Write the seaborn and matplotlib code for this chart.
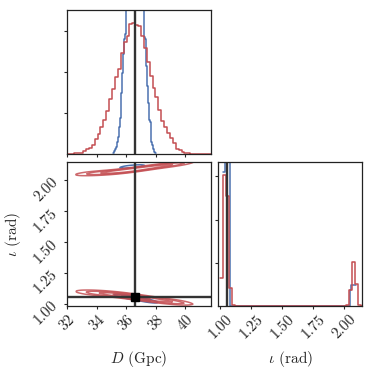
import numpy as np
import pandas as pd
import matplotlib
matplotlib.use("Agg")
import matplotlib.pyplot as plt
import seaborn as sns
import warnings
warnings.filterwarnings("ignore")

sns.set_theme(style="ticks")
plt.rcParams["font.family"] = ["serif"]
plt.rcParams["font.serif"] = ["cmr10", "DejaVu Serif"]
plt.rcParams["mathtext.fontset"] = "cm"
plt.rcParams["axes.formatter.use_mathtext"] = True
fontsize = 11

red = "#c44e52"
blue = "#4c72b0"
truth_c = "#333333"

# true values
D_true = 36.56
iota_true = 1.052

# 1D histogram of D (bin start, width, heights)
D_red_start, D_red_width = 31.9, 0.196
D_red_h = [0, 0, 0, 0.7, 0.7, 0.7, 2.7, 5, 6.3, 8.7,
           14.7, 20, 26.7, 34, 42.7, 54.7, 64.7, 76.7, 84.7, 100,
           111.7, 117, 129, 130, 128, 127, 117, 105.7, 91.7, 77.3,
           65.7, 56.7, 44, 33, 26.7, 20.7, 16, 10.7, 4.7, 3.7,
           1.7, 0.7, 0.7, 0, 0, 0, 0, 0, 0, 0]
D_blue_start, D_blue_width = 35.10, 0.0674
D_blue_h = [0.7, 2.7, 4.7, 7.3, 12.3, 17.3, 26.7, 35.7, 60.7, 80.7, 99, 114, 119,
            150, 180, 210, 240, 265, 285, 300, 310, 315, 315, 310, 300, 285, 265, 240, 210, 180, 150,
            115.7, 114, 87.3, 68, 50.7, 34, 31.3, 12.3, 9, 4.7, 2.3, 0.7]

# 1D histogram of iota
i_red_start, i_red_width = 0.9995, 0.02365
i_red_h = [27.7, 131, 110, 18, 1] + [0] * 38 + [1, 16.5, 44, 22, 1.5, 0]
i_blue_start, i_blue_width = 1.023, 0.01345
i_blue_h = [134, 300, 330, 200] + [0] * 72 + [16, 20.7, 20.7, 20.7]

# 2D posterior: ridge of each mode (D, iota, weight) and its spread across the ridge
red_low_D = [33.0, 33.8, 34.6, 35.4, 36.2, 37.0, 37.8, 38.6, 39.4, 40.0]
red_low_iota = [1.090, 1.089, 1.084, 1.075, 1.063, 1.049, 1.035, 1.023, 1.013, 1.007]
red_low_w = [4, 8, 9, 11, 14, 12, 9, 10, 7, 3]
red_low_spread = 0.020

red_up_D = [33.0, 33.8, 34.6, 35.4, 36.2, 37.0, 37.8, 38.6, 39.4, 40.0]
red_up_iota = [2.056, 2.058, 2.062, 2.069, 2.080, 2.094, 2.108, 2.120, 2.132, 2.140]
red_up_w = [4, 8, 9, 11, 14, 12, 9, 10, 7, 3]
red_up_spread = 0.016

blue_low_D = [35.4, 35.9, 36.4, 36.9, 37.4, 37.9]
blue_low_iota = [1.068, 1.060, 1.050, 1.039, 1.027, 1.017]
blue_low_w = [3, 7, 10, 10, 7, 3]
blue_low_spread = 0.012

blue_up_D = [35.6, 36.0, 36.4, 36.8, 37.2]
blue_up_iota = [2.103, 2.108, 2.112, 2.116, 2.120]
blue_up_w = [3, 7, 9, 7, 3]
blue_up_spread = 0.010

across = [-1.0, -0.5, 0.0, 0.5, 1.0]
across_w = [1, 2, 3, 2, 1]

D_lim = (31.95, 41.70)
i_lim = (0.983, 2.148)
D_ticks = [32, 34, 36, 38, 40]
i_ticks = [1.00, 1.25, 1.50, 1.75, 2.00]
levels = [0.135, 0.325, 0.607, 0.882]


def ridge_table(Ds, iotas, ws, spread):
    rows = []
    for d, i, w in zip(Ds, iotas, ws):
        for a, aw in zip(across, across_w):
            rows.append((d, i + a * spread, w * aw))
    return pd.DataFrame(rows, columns=["D", "iota", "w"])


def hist(ax, start, width, heights, color, lw=1.1):
    edges = [start + width * k for k in range(len(heights) + 1)]
    centers = [e + width / 2 for e in edges[:-1]]
    sns.histplot(x=centers, weights=heights, bins=edges, element="step",
                 fill=False, color=color, linewidth=lw, ax=ax)


fig = plt.figure(figsize=(3.72, 3.72), dpi=100)
w = 144 / 372
ax_top = fig.add_axes([66.5 / 372, 1 - 154 / 372, w, w])
ax_2d = fig.add_axes([66.5 / 372, 1 - 306 / 372, w, w])
ax_r = fig.add_axes([218.3 / 372, 1 - 306 / 372, w, w])

# top: D marginal
hist(ax_top, D_blue_start, D_blue_width, D_blue_h, blue)
hist(ax_top, D_red_start, D_red_width, D_red_h, red)
ax_top.axvline(D_true, color=truth_c, lw=1.7)
ax_top.set_xlim(D_lim)
ax_top.set_ylim(0, 1.1 * max(D_red_h))
ax_top.set_yticks([40.6, 81.2, 121.8])
ax_top.set_xticks(D_ticks)
ax_top.set_xticklabels([])
ax_top.set_yticklabels([])

# right: iota marginal
hist(ax_r, i_blue_start, i_blue_width, i_blue_h, blue)
hist(ax_r, i_red_start, i_red_width, i_red_h, red)
ax_r.axvline(iota_true, color=truth_c, lw=1.7)
ax_r.set_xlim(i_lim)
ax_r.set_ylim(0, 1.1 * max(i_red_h))
ax_r.set_yticks([43.2, 86.4, 129.6])
ax_r.set_yticklabels([])
ax_r.set_xticks(i_ticks)
ax_r.set_xticklabels(["%.2f" % t for t in i_ticks])

# 2D contours
kw = dict(x="D", y="iota", weights="w", bw_adjust=0.8, linewidths=1.1, ax=ax_2d)
sns.kdeplot(data=ridge_table(blue_low_D, blue_low_iota, blue_low_w, blue_low_spread),
            levels=[0.135, 0.5], color=blue, **kw)
sns.kdeplot(data=ridge_table(blue_up_D, blue_up_iota, blue_up_w, blue_up_spread),
            levels=[0.3], color=blue, **kw)
sns.kdeplot(data=ridge_table(red_low_D, red_low_iota, red_low_w, red_low_spread),
            levels=levels, color=red, alpha=0.85, **kw)
sns.kdeplot(data=ridge_table(red_up_D, red_up_iota, red_up_w, red_up_spread),
            levels=levels[:3], color=red, alpha=0.85, **kw)
ax_2d.axvline(D_true, color=truth_c, lw=1.7)
ax_2d.axhline(iota_true, color=truth_c, lw=1.7)
ax_2d.plot(D_true, iota_true, "s", color="black", ms=5.5)
ax_2d.set_xlim(D_lim)
ax_2d.set_ylim(i_lim)
ax_2d.set_xticks(D_ticks)
ax_2d.set_yticks(i_ticks)
ax_2d.set_xticklabels([str(t) for t in D_ticks])
ax_2d.set_yticklabels(["%.2f" % t for t in i_ticks])

for ax in [ax_top, ax_2d, ax_r]:
    ax.set_xlabel("")
    ax.set_ylabel("")
    ax.tick_params(length=2.5, width=0.8, labelsize=fontsize, pad=2)
    for s in ax.spines.values():
        s.set_linewidth(0.9)
        s.set_color("#222222")
    for l in ax.get_xticklabels():
        l.set_rotation(45)
    for l in ax.get_yticklabels():
        l.set_rotation(45)

ax_2d.set_xlabel(r"$D$ (Gpc)", fontsize=fontsize)
ax_2d.set_ylabel(r"$\iota$ (rad)", fontsize=fontsize)
ax_r.set_xlabel(r"$\iota$ (rad)", fontsize=fontsize)
ax_2d.xaxis.set_label_coords(0.5, -0.3)
ax_2d.yaxis.set_label_coords(-0.3, 0.5)
ax_r.xaxis.set_label_coords(0.5, -0.3)

fig.savefig("out.png", dpi=100)
